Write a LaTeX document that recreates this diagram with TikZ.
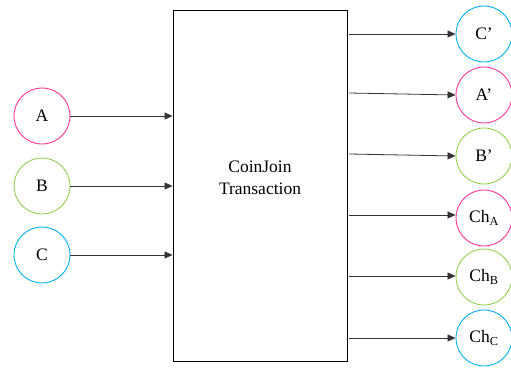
\documentclass[tikz,border=0pt]{standalone}
\usepackage{fontspec}
\setmainfont{Liberation Serif}
\usetikzlibrary{arrows.meta}
\definecolor{cpink}{HTML}{FF3399}
\definecolor{cgreen}{HTML}{92D050}
\definecolor{cblue}{HTML}{00B0F0}
\begin{document}
\begin{tikzpicture}[x=1pt,y=-1pt,
  party/.style={circle,draw,line width=0.9pt,minimum size=56pt,inner sep=0pt,font=\fontsize{17.5}{20}\selectfont},
  flow/.style={draw=black!80,line width=0.8pt,-{Triangle[length=8pt,width=7pt]}}]
\useasboundingbox (0,0) rectangle (511,367);
\node[draw,line width=0.9pt,minimum width=174pt,minimum height=351pt,inner sep=0pt] (tx) at (260,186) {};
\node[align=center,font=\fontsize{17.5}{21.7}\selectfont] (txt) at (260,178) {CoinJoin\\Transaction};
\node[party,draw=cpink] (A) at (42,116) {A};
\node[party,draw=cgreen] (B) at (42,186) {B};
\node[party,draw=cblue] (C) at (42,255) {C};
\node[party,draw=cblue] (Cp) at (484,34) {C’};
\node[party,draw=cpink] (Ap) at (484,95) {A’};
\node[party,draw=cgreen] (Bp) at (484,156) {B’};
\node[party,draw=cpink] (ChA) at (484,218) {Ch\textsubscript{A}};
\node[party,draw=cgreen] (ChB) at (484,277) {Ch\textsubscript{B}};
\node[party,draw=cblue] (ChC) at (484,338) {Ch\textsubscript{C}};
\draw[flow] (A.east) -- (tx.west |- A.east);
\draw[flow] (B.east) -- (tx.west |- B.east);
\draw[flow] (C.east) -- (tx.west |- C.east);
\coordinate (s1) at (349,34);
\coordinate (s2) at (349,93);
\coordinate (s3) at (349,154);
\coordinate (s4) at (349,215);
\coordinate (s5) at (349,276);
\coordinate (s6) at (349,338);
\draw[flow] (s1) -- (Cp.west);
\draw[flow] (s2) -- (Ap.west);
\draw[flow] (s3) -- (Bp.west);
\draw[flow] (s4) -- (ChA.west |- s4);
\draw[flow] (s5) -- (ChB.west |- s5);
\draw[flow] (s6) -- (ChC.west |- s6);
\end{tikzpicture}
\end{document}
